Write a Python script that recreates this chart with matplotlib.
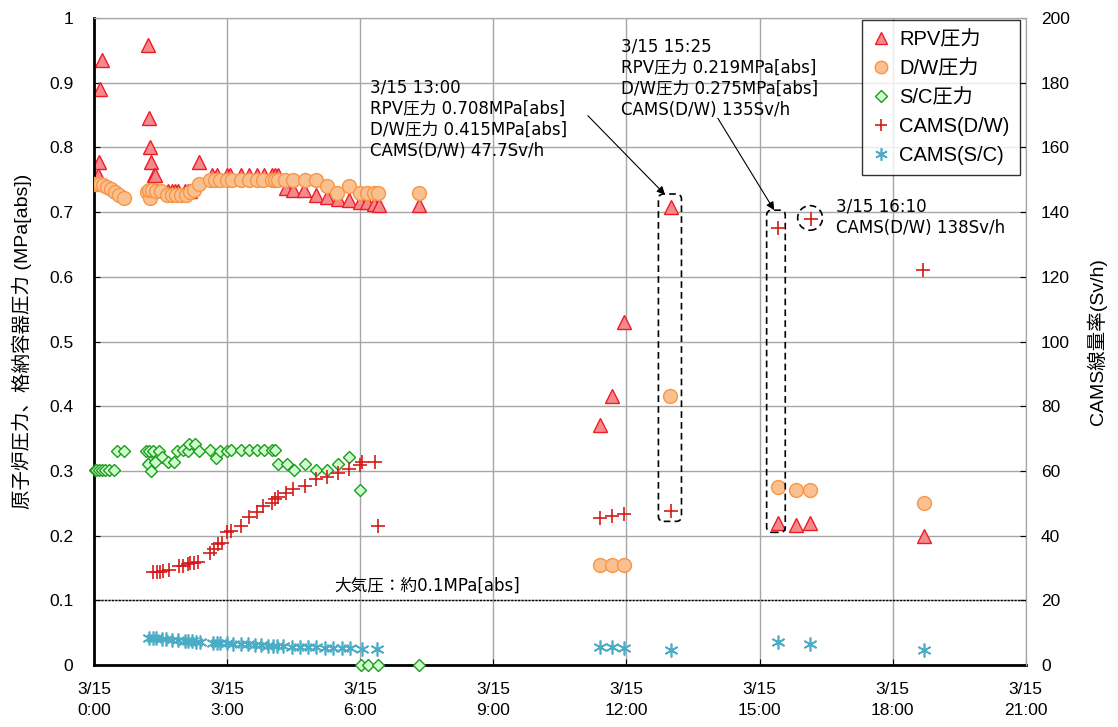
import numpy as np
import matplotlib
matplotlib.use("Agg")
import matplotlib.pyplot as plt
from matplotlib.lines import Line2D
from matplotlib.patches import FancyBboxPatch, Ellipse

plt.rcParams['font.family'] = ['Liberation Sans', 'Noto Sans CJK JP', 'DejaVu Sans']

# ============================================================
# Data (time in hours from 3/15 0:00)
# ============================================================

rpv_t = [0.09, 0.11, 0.13, 0.17, 1.22, 1.23, 1.26, 1.29, 1.35, 1.38,
         1.67, 1.75, 1.82, 1.89, 2.04, 2.11, 2.17, 2.36,
         2.65, 2.76, 2.99, 3.06, 3.32, 3.49, 3.66, 3.83, 4.00, 4.07, 4.15,
         4.32, 4.49, 4.74, 4.99, 5.24, 5.49, 5.74, 5.99, 6.14, 6.31, 6.42, 7.32,
         11.40, 11.68, 11.95, 13.00, 15.42, 15.82, 16.14, 18.70]
rpv_p = [0.757, 0.778, 0.891, 0.935, 0.959, 0.846, 0.800, 0.778, 0.757, 0.757,
         0.733, 0.733, 0.733, 0.733, 0.733, 0.733, 0.733, 0.777,
         0.757, 0.757, 0.757, 0.757, 0.757, 0.757, 0.757, 0.757, 0.757, 0.757, 0.757,
         0.737, 0.734, 0.734, 0.726, 0.723, 0.721, 0.718, 0.715, 0.715, 0.713, 0.711, 0.711,
         0.371, 0.416, 0.530, 0.708, 0.219, 0.217, 0.219, 0.200]

dw_t = [0.00, 0.03, 0.07, 0.13, 0.20, 0.28, 0.37, 0.47, 0.56, 0.67,
        1.18, 1.25, 1.23, 1.31, 1.39, 1.50, 1.65, 1.75, 1.85, 1.95, 2.07, 2.15, 2.24, 2.36,
        2.61, 2.72, 2.83, 2.99, 3.10, 3.32, 3.49, 3.66, 3.81, 4.00, 4.07, 4.15,
        4.30, 4.48, 4.75, 5.00, 5.24, 5.48, 5.74, 5.99, 6.14, 6.31, 6.40, 7.32,
        11.40, 11.68, 11.95, 12.98, 15.42, 15.82, 16.14, 18.70]
dw_p = [0.743, 0.743, 0.743, 0.743, 0.742, 0.739, 0.735, 0.731, 0.727, 0.722,
        0.731, 0.722, 0.734, 0.734, 0.733, 0.733, 0.727, 0.727, 0.727, 0.727, 0.727, 0.731, 0.734, 0.743,
        0.750, 0.750, 0.750, 0.750, 0.750, 0.750, 0.750, 0.750, 0.750, 0.750, 0.750, 0.750,
        0.750, 0.750, 0.750, 0.750, 0.741, 0.730, 0.741, 0.730, 0.730, 0.730, 0.730, 0.730,
        0.155, 0.155, 0.155, 0.415, 0.275, 0.270, 0.270, 0.250]

sc_t = [0.02, 0.05, 0.11, 0.17, 0.24, 0.34, 0.44, 0.51, 0.67,
        1.17, 1.24, 1.33, 1.47, 1.52, 1.26, 1.22, 1.37, 1.29, 1.67, 1.80,
        1.87, 2.01, 2.12, 2.14, 2.28, 2.37, 2.62, 2.74, 2.83, 2.99,
        3.08, 3.32, 3.49, 3.66, 3.83, 4.00, 4.07, 4.15, 4.34, 4.50, 4.75,
        5.00, 5.24, 5.49, 5.74, 5.99, 6.01, 6.18, 6.40, 7.32]
sc_p = [0.301, 0.301, 0.301, 0.301, 0.301, 0.301, 0.301, 0.331, 0.331,
        0.331, 0.331, 0.331, 0.331, 0.322, 0.313, 0.310, 0.313, 0.300, 0.313, 0.313,
        0.331, 0.332, 0.331, 0.341, 0.341, 0.331, 0.332, 0.320, 0.331, 0.331,
        0.332, 0.332, 0.332, 0.332, 0.332, 0.332, 0.332, 0.311, 0.311, 0.301, 0.311,
        0.302, 0.302, 0.311, 0.321, 0.271, 0.0, 0.0, 0.0, 0.0]

cams_dw_t = [1.33, 1.41, 1.48, 1.54, 1.69, 1.92, 2.01, 2.11, 2.16, 2.25, 2.35,
             2.61, 2.70, 2.78, 2.87, 3.00, 3.08, 3.32, 3.49, 3.66, 3.81, 4.00,
             4.07, 4.15, 4.32, 4.49, 4.75, 5.00, 5.24, 5.49, 5.74, 5.99, 6.03,
             6.33, 6.40, 11.40, 11.68, 11.95, 13.00, 15.42, 16.17, 18.69]
cams_dw = [28.8, 28.8, 28.8, 29.0, 29.4, 30.6, 30.6, 31.1, 31.4, 31.6, 31.9,
           34.5, 35.9, 37.4, 37.6, 41.2, 41.3, 43.1, 45.8, 47.4, 49.1, 50.2,
           51.2, 51.8, 53.1, 54.3, 55.3, 57.6, 58.2, 59.3, 60.5, 61.8, 62.8,
           62.8, 43.1, 45.3, 46.1, 46.6, 47.7, 135.0, 138.0, 122.1]

cams_sc_t = [1.24, 1.32, 1.39, 1.52, 1.62, 1.75, 1.89, 2.05, 2.12, 2.20, 2.29, 2.38,
             2.68, 2.76, 2.83, 2.99, 3.13, 3.32, 3.47, 3.62, 3.77, 3.92, 4.04, 4.11,
             4.26, 4.45, 4.64, 4.83, 5.01, 5.20, 5.39, 5.58, 5.77, 6.03, 6.37,
             11.40, 11.68, 11.95, 13.00, 15.42, 16.14, 18.70]
cams_sc = [8.3, 8.3, 8.3, 8.1, 8.0, 7.8, 7.6, 7.4, 7.3, 7.3, 7.2, 7.2,
           6.9, 6.9, 6.8, 6.7, 6.6, 6.5, 6.4, 6.2, 6.1, 6.0, 6.0, 5.9,
           5.8, 5.7, 5.7, 5.6, 5.5, 5.4, 5.3, 5.2, 5.1, 4.9, 4.9,
           5.7, 5.5, 5.2, 4.6, 7.0, 6.5, 4.6]

x_ticks = [0, 3, 6, 9, 12, 15, 18, 21]
x_labels = ["3/15\n0:00", "3/15\n3:00", "3/15\n6:00", "3/15\n9:00",
            "3/15\n12:00", "3/15\n15:00", "3/15\n18:00", "3/15\n21:00"]

# ============================================================
# Plot
# ============================================================

fig = plt.figure(figsize=(11.18, 7.27), dpi=100)
ax = fig.add_axes([0.0843, 0.0853, 0.8331, 0.8899])
ax2 = ax.twinx()

ax.set_xlim(0, 21)
ax.set_ylim(0, 1)
ax2.set_ylim(0, 200)

ax.set_xticks(x_ticks)
ax.set_xticklabels(x_labels, fontsize=12.5, linespacing=1.55)
ax.set_yticks(np.arange(0, 1.01, 0.1))
ax.set_yticklabels([f"{v:g}" for v in np.arange(0, 1.01, 0.1).round(1)], fontsize=12.5)
ax2.set_yticks(np.arange(0, 201, 20))
ax2.tick_params(axis="y", labelsize=12.5, direction="in", length=4, pad=11)
ax.tick_params(direction="in", length=4)
ax.tick_params(axis="y", pad=15)
ax.tick_params(axis="x", pad=12)

ax.grid(True, color="#a6a6a6", linewidth=1)
ax.set_axisbelow(True)
for s in ["left", "bottom"]:
    ax.spines[s].set_linewidth(2)
    ax.spines[s].set_color("black")
for a in [ax, ax2]:
    a.spines["top"].set_color("#a6a6a6")
    a.spines["right"].set_color("#a6a6a6")
ax2.spines["left"].set_visible(False)
ax2.spines["bottom"].set_visible(False)

ax.set_ylabel("原子炉圧力、格納容器圧力 (MPa[abs])", fontsize=14, labelpad=12)
ax2.set_ylabel("CAMS線量率(Sv/h)", fontsize=14, labelpad=12)

# atmospheric pressure
ax.axhline(0.1, color="black", linestyle=(0, (1.5, 1)), linewidth=1)
ax.text(5.42, 0.108, "大気圧：約0.1MPa[abs]", fontsize=12, va="bottom",
        family=["DejaVu Sans", "Noto Sans CJK JP"])

tri_style = dict(marker="^", ms=9.5, mfc="#f38a8e", mec="#ee1c25", mew=1, ls="none")
dw_style = dict(marker="o", ms=10, mfc="#fac090", mec="#f79646", mew=1, ls="none")
sc_style = dict(marker="D", ms=6.5, mfc="#ccffcc", mec="#1e9a1e", mew=1, ls="none")
dwc_style = dict(marker="+", ms=10, mec="#d41a1a", mew=1.2, ls="none")
scc_style = dict(marker=(6, 2, 0), ms=10, mec="#4bacc6", mew=1.2, ls="none")

ax.plot(sc_t, sc_p, clip_on=False, zorder=3, **sc_style)
ax.plot(dw_t, dw_p, zorder=3, **dw_style)
ax.plot(rpv_t, rpv_p, zorder=2, **tri_style)
ax2.plot(cams_dw_t, cams_dw, zorder=3, **dwc_style)
ax2.plot(cams_sc_t, cams_sc, zorder=3, **scc_style)

# dashed highlight boxes
asp = 44.35 / 647
for x0, x1, y0, y1 in [(12.72, 13.24, 0.222, 0.728), (15.16, 15.58, 0.205, 0.703)]:
    box = FancyBboxPatch((x0, y0), x1 - x0, y1 - y0,
                         boxstyle="round,pad=0,rounding_size=0.12",
                         mutation_aspect=asp, fill=False, ec="black",
                         lw=1.2, ls=(0, (4, 2.5)), zorder=5)
    ax.add_patch(box)
ax.add_patch(Ellipse((16.14, 0.691), 0.56, 0.038, fill=False, ec="black",
                     lw=1.2, ls=(0, (4, 2.5)), zorder=5))

ann_font = dict(fontsize=12, va="top", linespacing=1.22,
                family=["DejaVu Sans", "Noto Sans CJK JP"])
ax.text(6.22, 0.906,
        "3/15 13:00\nRPV圧力 0.708MPa[abs]\nD/W圧力 0.415MPa[abs]\nCAMS(D/W) 47.7Sv/h",
        **ann_font)
ax.text(11.87, 0.970,
        "3/15 15:25\nRPV圧力 0.219MPa[abs]\nD/W圧力 0.275MPa[abs]\nCAMS(D/W) 135Sv/h",
        **ann_font)
ax.text(16.73, 0.722, "3/15 16:10\nCAMS(D/W) 138Sv/h", **ann_font)

arrow = dict(arrowstyle="-|>", color="black", lw=0.8, mutation_scale=12,
             shrinkA=0, shrinkB=0)
ax.annotate("", xy=(12.87, 0.727), xytext=(11.13, 0.849), arrowprops=arrow)
ax.annotate("", xy=(15.33, 0.703), xytext=(14.06, 0.845), arrowprops=arrow)

# legend
handles = [Line2D([], [], **tri_style), Line2D([], [], **dw_style),
           Line2D([], [], **sc_style), Line2D([], [], **dwc_style),
           Line2D([], [], **scc_style)]
labels = ["RPV圧力", "D/W圧力", "S/C圧力", "CAMS(D/W)", "CAMS(S/C)"]
leg = ax2.legend(handles, labels, loc="upper right", bbox_to_anchor=(0.996, 1.0),
                 prop={"size": 14.5}, frameon=True, fancybox=False, edgecolor="black",
                 handlelength=0.9, handletextpad=0.45, labelspacing=0.5,
                 borderpad=0.5, borderaxespad=0.1, markerscale=0.9)
leg.get_frame().set_linewidth(1)
leg.set_zorder(10)

fig.savefig("out.png", dpi=100)
